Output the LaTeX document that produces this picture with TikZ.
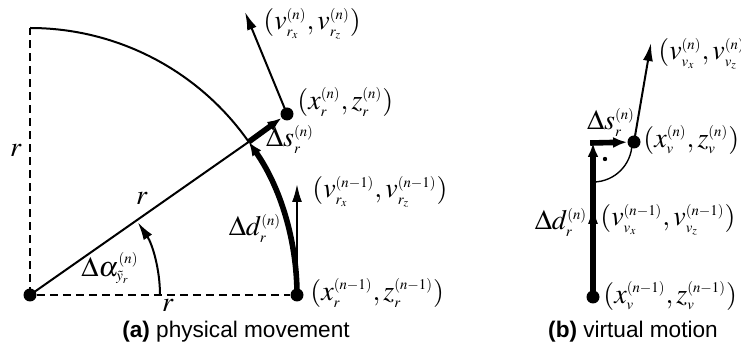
\documentclass[tikz,border=0pt]{standalone}
\usepackage{mathptmx}
\usepackage[no-math]{fontspec}
\newfontfamily\capfont{Liberation Sans}
\DeclareMathSizes{14}{14}{7.4}{5.8}
\usetikzlibrary{arrows.meta,calc}
\begin{document}
\begin{tikzpicture}[x=0.5pt,y=-0.5pt,
  font=\fontsize{14}{16}\selectfont,
  thinline/.style={line width=1pt},
  dashline/.style={line width=1pt, dash pattern=on 4pt off 2.5pt},
  dot/.style={circle, fill, inner sep=0pt, minimum size=6.5pt},
  thinarrow/.style={line width=1pt, -{Latex[length=9pt,width=5pt]}},
  thickarrow/.style={line width=2.8pt, -{Latex[length=7pt,width=5.5pt]}},
  lbl/.style={inner sep=0pt},
  captext/.style={inner sep=0pt, font=\capfont\fontsize{11.3}{13}\selectfont},
]
\useasboundingbox (0,0) rectangle (741,352);
% ---------- (a) physical movement ----------
\coordinate (O) at (30,295);
\coordinate (T) at (30,28);
\coordinate (A) at (248.7,141.9);
\node[dot] (o) at (O) {};
\node[dot] (p0) at (297,295) {};
\node[dot] (p1) at (287,114) {};
\coordinate (v1) at (245,12);
\coordinate (v0) at (297,184);
\coordinate (ang0) at (160,295);

\draw[dashline] (o.center) -- (T);
\draw[dashline] (o) -- (p0);
\draw[thinline] (T) arc[start angle=-90, end angle=-35, radius=267];
\draw[thinline] (o.center) -- (A);
\draw[thickarrow] (p0.center) arc[start angle=0, end angle=-35, radius=267];
\draw[thickarrow] (A) -- (p1);
\draw[thinarrow] (ang0) arc[start angle=0, end angle=-34, radius=130];
\draw[thinarrow] (p1.center) -- (v1);
\draw[thinarrow] (p0.center) -- (v0);

\node[lbl] (rl) at (16,150) {$r$};
\node[lbl] (rm) at (142,198) {$r$};
\node[lbl] (rb) at (168,305) {$r$};
\node[lbl] (la) at (110,268) {$\Delta\alpha_{\tilde{y}_r}^{(n)}$};
\node[lbl] (ld) at (255,228) {$\Delta d_r^{(n)}$};
\node[lbl] (ls) at (290,139) {$\Delta s_r^{(n)}$};
\node[lbl, anchor=west] (lp1) at (297,102) {$(x_r^{(n)},z_r^{(n)})$};
\node[lbl, anchor=west] (lv1) at (263,24) {$(v_{r_x}^{(n)},v_{r_z}^{(n)})$};
\node[lbl, anchor=west] (lv0) at (312,192) {$(v_{r_x}^{(n-1)},v_{r_z}^{(n-1)})$};
\node[lbl, anchor=west] (lp0) at (310,293) {$(x_r^{(n-1)},z_r^{(n-1)})$};
\node[captext] (capa) at (236,332) {\textbf{(a)} physical movement};

% ---------- (b) virtual motion ----------
\coordinate (C) at (593,143);
\node[dot] (q0) at (593,297) {};
\node[dot] (q1) at (634,142) {};
\coordinate (vq0) at (593,206);
\coordinate (vq1) at (651,43);
\coordinate (ra) at (593,182);

\draw[thinline, line width=0.7pt] (ra) arc[start angle=90, end angle=0, radius=39];
\fill (605,159) circle[radius=1.1pt];
\draw[thickarrow] (q0.center) -- (C);
\draw[thickarrow] ([xshift=-1.4pt]C) -- (q1);
\draw[thinarrow] (q0.center) -- (vq0);
\draw[thinarrow] (q1.center) -- (vq1);

\node[lbl] (ls2) at (611,122) {$\Delta s_r^{(n)}$};
\node[lbl] (ld2) at (561,222) {$\Delta d_r^{(n)}$};
\node[lbl, anchor=west] (lq1) at (643,140) {$(x_v^{(n)},z_v^{(n)})$};
\node[lbl, anchor=west] (lvq1) at (658,54) {$(v_{v_x}^{(n)},v_{v_z}^{(n)})$};
\node[lbl, anchor=west] (lvq0) at (600,220) {$(v_{v_x}^{(n-1)},v_{v_z}^{(n-1)})$};
\node[lbl, anchor=west] (lq0) at (603,296) {$(x_v^{(n-1)},z_v^{(n-1)})$};
\node[captext] (capb) at (633,332) {\textbf{(b)} virtual motion};
\end{tikzpicture}
\end{document}
